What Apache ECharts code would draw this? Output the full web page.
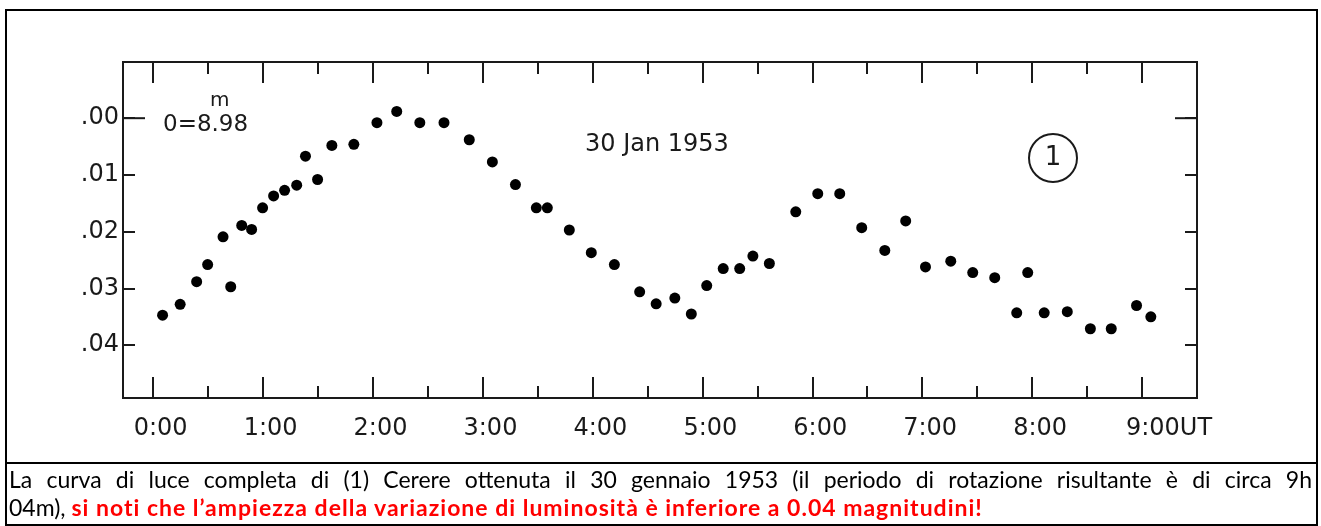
<!DOCTYPE html>
<html>
<head>
<meta charset="utf-8">
<script src="https://cdn.jsdelivr.net/npm/echarts@6/dist/echarts.min.js"></script>
<style>
  html, body { margin: 0; padding: 0; background: #fff; width: 1321px; height: 526px; overflow: hidden; }
  #chart { position: absolute; left: 0; top: 0; width: 1321px; height: 526px; }
  #box { position: absolute; left: 5px; top: 9px; width: 1309px; height: 513px; border: 2px solid #000; pointer-events: none; }
  #sep { position: absolute; left: 5px; top: 462px; width: 1313px; height: 2px; background: #000; }
  #caption { position: absolute; left: 9px; top: 465px; width: 1303px; font-family: Lato, 'Open Sans', sans-serif; font-size: 23px; line-height: 28px; color: #000; }
  #caption .l1 { text-align: justify; text-align-last: justify; white-space: normal; }
  #caption .red { color: #ff0000; font-weight: bold; letter-spacing: 1px; }
</style>
</head>
<body>
<div id="chart"></div>
<div id="box"></div>
<div id="sep"></div>
<div id="caption">
  <div class="l1">La curva di luce completa di (1) Cerere ottenuta il 30 gennaio 1953 (il periodo di rotazione risultante è di circa 9h</div>
  <div>04m), <span class="red">si noti che l’ampiezza della variazione di luminosità è inferiore a 0.04 magnitudini!</span></div>
</div>
<script>
// ore UT (h) e differenza di magnitudine rispetto a 8.98
const times = [0.09, 0.25, 0.40, 0.50, 0.64, 0.71, 0.81, 0.90, 1.00, 1.10,
  1.20, 1.31, 1.39, 1.50, 1.63, 1.83, 2.04, 2.22, 2.43, 2.65,
  2.88, 3.09, 3.30, 3.49, 3.59, 3.79, 3.99, 4.20, 4.43, 4.58,
  4.75, 4.90, 5.04, 5.19, 5.34, 5.46, 5.61, 5.85, 6.05, 6.25,
  6.45, 6.66, 6.85, 7.03, 7.26, 7.46, 7.66, 7.86, 7.96, 8.11,
  8.32, 8.53, 8.72, 8.95, 9.08]
const mags = [0.0347, 0.0328, 0.0288, 0.0258, 0.0209, 0.0297, 0.0189, 0.0196, 0.0158, 0.0137,
  0.0127, 0.0118, 0.0067, 0.0108, 0.0048, 0.0046, 0.0008, -0.0012, 0.0008, 0.0008,
  0.0038, 0.0077, 0.0117, 0.0158, 0.0158, 0.0197, 0.0237, 0.0258, 0.0306, 0.0327,
  0.0317, 0.0345, 0.0295, 0.0265, 0.0265, 0.0243, 0.0256, 0.0165, 0.0133, 0.0133,
  0.0193, 0.0233, 0.0181, 0.0262, 0.0252, 0.0272, 0.0281, 0.0343, 0.0272, 0.0343,
  0.0341, 0.0371, 0.0371, 0.0330, 0.0350]

const xTickLabels = ['0:00', '1:00', '2:00', '3:00', '4:00', '5:00', '6:00', '7:00', '8:00', '9:00UT']
const yTickLabels = ['.00', '.01', '.02', '.03', '.04']

const xMin = -0.27, xMax = 9.5
const yMin = -0.0099, yMax = 0.0493
const ink = '#1a1a1a'
const font = "'DejaVu Sans', sans-serif"

const chart = echarts.init(document.getElementById('chart'))

const isWhole = (v, step) => Math.abs(v / step - Math.round(v / step)) < 1e-6

const xAxisBase = {
  type: 'value', min: xMin, max: xMax, minInterval: 1, maxInterval: 1, splitNumber: 10,
  axisLine: { show: false, onZero: false },
  splitLine: { show: false },
  axisTick: { inside: true, length: 21, lineStyle: { color: ink, width: 2 } },
  minorTick: { show: true, splitNumber: 2, length: 12, lineStyle: { color: ink, width: 2 } }
}
const yAxisBase = {
  type: 'value', inverse: true, min: yMin, max: yMax, minInterval: 0.01, maxInterval: 0.01, splitNumber: 6,
  axisLine: { show: false, onZero: false },
  splitLine: { show: false },
  axisTick: { inside: true, length: 12, lineStyle: { color: ink, width: 2 } }
}

const option = {
  animation: false,
  grid: { left: 123, right: 124, top: 62, bottom: 128, show: true, borderColor: ink, borderWidth: 2, backgroundColor: 'transparent' },
  xAxis: [
    Object.assign({}, xAxisBase, {
      position: 'bottom',
      axisLabel: {
        showMinLabel: false, showMaxLabel: false,
        margin: 19, color: ink, fontFamily: font, fontSize: 24,
        formatter: v => {
          if (!isWhole(v, 1)) return ''
          const i = Math.round(v)
          if (i === 9) return '{p2|}' + xTickLabels[i]
          return xTickLabels[i] !== undefined ? '{p|}' + xTickLabels[i] : ''
        },
        rich: { p: { width: 16 }, p2: { width: 54 } }
      }
    }),
    Object.assign({}, xAxisBase, { position: 'top', axisLabel: { show: false } })
  ],
  yAxis: [
    Object.assign({}, yAxisBase, {
      position: 'left',
      axisLabel: {
        showMinLabel: false, showMaxLabel: false,
        margin: 4, color: ink, fontFamily: font, fontSize: 24,
        formatter: v => {
          if (!isWhole(v, 0.01)) return ''
          const s = yTickLabels[Math.round(v * 100)]
          return s === undefined ? '' : s
        }
      }
    }),
    Object.assign({}, yAxisBase, { position: 'right', axisLabel: { show: false } })
  ],
  graphic: [
    { type: 'text', x: 210, y: 101, style: { text: 'm', font: "20px 'DejaVu Sans'", fill: ink, textAlign: 'left', textVerticalAlign: 'middle' } },
    { type: 'text', x: 163, y: 125, style: { text: '0=8.98', font: "23px 'DejaVu Sans'", fill: ink, textAlign: 'left', textVerticalAlign: 'middle' } },
    { type: 'text', x: 585, y: 145, style: { text: '30 Jan 1953', font: "24px 'DejaVu Sans'", fill: ink, textAlign: 'left', textVerticalAlign: 'middle' } },
    { type: 'circle', shape: { cx: 1053, cy: 158, r: 24 }, style: { fill: 'none', stroke: ink, lineWidth: 2 } },
    { type: 'text', x: 1053, y: 158, style: { text: '1', font: "26px 'DejaVu Sans'", fill: ink, textAlign: 'center', textVerticalAlign: 'middle' } }
  ],
  series: [
    {
      type: 'scatter',
      symbolSize: 11,
      itemStyle: { color: '#000', opacity: 1 },
      data: times.map((t, i) => [t, mags[i]])
    },
    {
      // tacche lunghe dello zero sui due lati
      type: 'custom',
      silent: true,
      data: [[0, 0]],
      renderItem: (params, api) => {
        const p = api.coord([xMin, api.value(1)])
        const q = api.coord([xMax, api.value(1)])
        return {
          type: 'group',
          children: [
            { type: 'line', shape: { x1: p[0], y1: p[1], x2: p[0] + 22, y2: p[1] }, style: { stroke: ink, lineWidth: 2 } },
            { type: 'line', shape: { x1: q[0] - 22, y1: q[1], x2: q[0], y2: q[1] }, style: { stroke: ink, lineWidth: 2 } }
          ]
        }
      }
    }
  ]
}

chart.setOption(option)
window.addEventListener('resize', () => chart.resize())
</script>
</body>
</html>
